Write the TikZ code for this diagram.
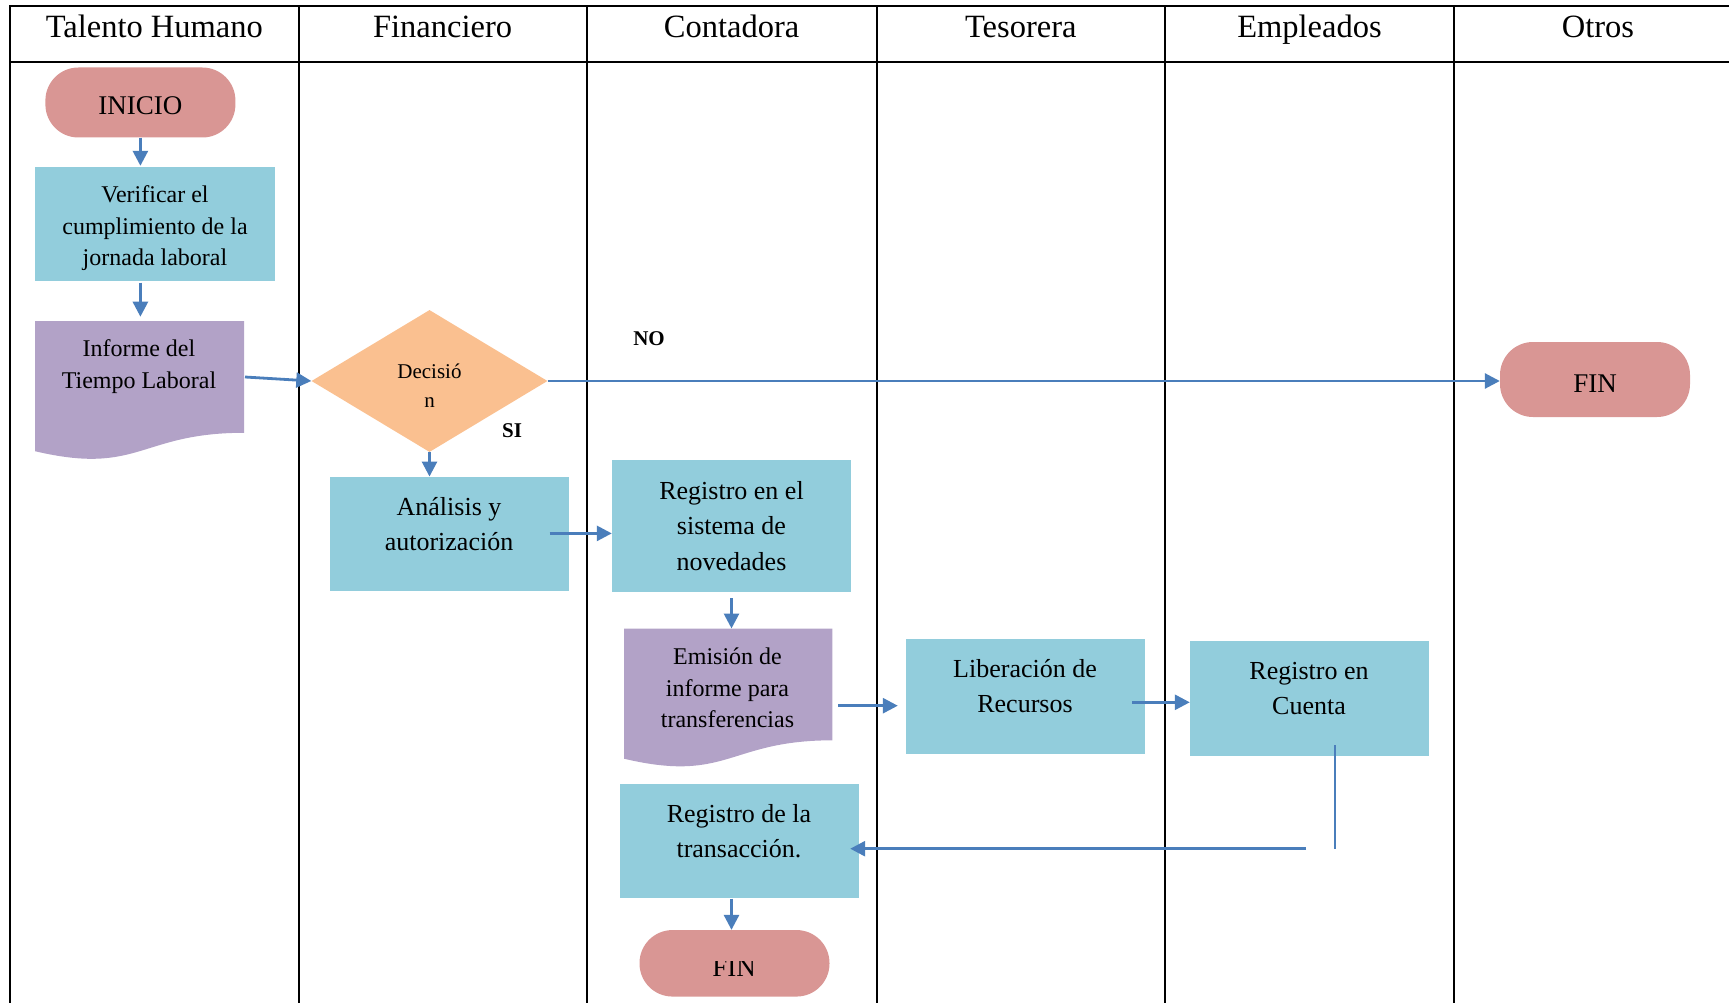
\documentclass[tikz,border=0pt]{standalone}
\usepackage{fontspec}
\setmainfont{Liberation Serif}
\usetikzlibrary{arrows.meta,calc,shapes.geometric}
\definecolor{boxblue}{HTML}{92CDDC}
\definecolor{docpurple}{HTML}{B2A2C7}
\definecolor{termrose}{HTML}{D99694}
\definecolor{decorange}{HTML}{FAC090}
\definecolor{flowblue}{HTML}{4A7EBB}

\begin{document}
\begin{tikzpicture}[x=1pt,y=-1pt,
  lane/.style={line width=2.2pt,black},
  lanehead/.style={anchor=base,inner sep=0pt,font=\fontsize{32.5}{36}\selectfont},
  process/.style={fill=boxblue,draw=none,inner sep=0pt,minimum width=239pt},
  txt/.style={align=center,inner sep=0pt,font=\fontsize{26}{35.5}\selectfont},
  smalltxt/.style={align=center,inner sep=0pt,font=\fontsize{24}{31.5}\selectfont},
  terminal/.style={fill=termrose,draw=none,rounded corners=33pt,minimum width=190pt,
    minimum height=70pt,inner sep=0pt,text height=25pt,text depth=0pt,
    font=\fontsize{27}{30}\selectfont},
  docframe/.style={draw=none,inner sep=0pt,minimum width=#1,minimum height=139pt},
  flow/.style={draw=flowblue,line width=2.8pt,-{Triangle[length=15pt,width=15pt]}},
  flowthin/.style={draw=flowblue,line width=2pt},
  tag/.style={font=\fontsize{21}{24}\selectfont\bfseries,inner sep=0pt},
]
\useasboundingbox (0,0) rectangle (1729,1003);

% swimlane grid
\draw[lane] (10,1003) -- (10,6) -- (1729,6);
\draw[lane] (10,62) -- (1729,62);
\foreach \lx in {298.6,586.6,876.6,1164.9,1454.2}
  \draw[lane] (\lx,6) -- (\lx,1003);

% lane titles
\node[lanehead] (hTalento) at (154.3,37.5) {Talento Humano};
\node[lanehead] (hFinanciero) at (442.6,37.5) {Financiero};
\node[lanehead] (hContadora) at (731.6,37.5) {Contadora};
\node[lanehead] (hTesorera) at (1020.8,37.5) {Tesorera};
\node[lanehead] (hEmpleados) at (1309.5,37.5) {Empleados};
\node[lanehead] (hOtros) at (1598,37.5) {Otros};

% Talento Humano
\node[terminal] (inicio) at (140.4,102.5) {INICIO};
\node[process,minimum width=240pt,minimum height=114pt] (verificar) at (155,224) {};
\node[smalltxt] (verificarT) at (155,228.5) {Verificar el\\cumplimiento de la\\jornada laboral};
\node[docframe=208.6pt,anchor=north west] (informe) at (35,321) {};
\fill[docpurple] (informe.north west) -- (informe.north east)
  -- ($(informe.north east)!0.802!(informe.south east)$)
  .. controls ($(informe.north)!0.802!(informe.south)$) and ($(informe.north)!1.1106!(informe.south)$)
  .. ($(informe.north west)!0.934!(informe.south west)$) -- cycle;
\node[smalltxt] (informeT) at (139,366.5) {Informe del\\Tiempo Laboral};

% Financiero
\node[diamond,fill=decorange,draw=none,minimum width=236pt,minimum height=142pt,inner sep=0pt]
  (dec) at (429.5,381) {};
\node[align=center,inner sep=0pt,font=\fontsize{21}{29}\selectfont] (decT) at (429.5,385.5)
  {Decisió\\n};
\node[tag] (no) at (649,338.5) {NO};
\node[tag] (si) at (512,430.5) {SI};
\node[process,minimum height=114.5pt] (analisis) at (449.5,534) {};
\node[txt] (analisisT) at (449,524) {Análisis y\\autorización};

% Contadora
\node[process,txt,minimum height=131.5pt] (registro) at (731.5,525.8)
  {Registro en el\\sistema de\\novedades};
\node[docframe=208pt,anchor=north west] (emision) at (624,628.5) {};
\fill[docpurple] (emision.north west) -- (emision.north east)
  -- ($(emision.north east)!0.802!(emision.south east)$)
  .. controls ($(emision.north)!0.802!(emision.south)$) and ($(emision.north)!1.1106!(emision.south)$)
  .. ($(emision.north west)!0.934!(emision.south west)$) -- cycle;
\node[smalltxt] (emisionT) at (727.5,688) {Emisión de\\informe para\\transferencias};
\node[process,minimum height=114.5pt] (transaccion) at (739.5,841.2) {};
\node[txt] (transaccionT) at (739,831) {Registro de la\\transacción.};
\node[terminal,minimum height=66.5pt] (fin2) at (734.5,963.3) {};
\begin{scope}
  \clip ($(fin2.north west)+(0,31.5)$) rectangle (fin2.south east);
  \node[anchor=base,inner sep=0pt,font=\fontsize{27}{30}\selectfont] (fin2T) at (734,976) {FIN};
\end{scope}

% Tesorera and Empleados
\node[process,minimum height=115pt] (liberacion) at (1025.5,696.5) {};
\node[txt] (liberacionT) at (1025,686) {Liberación de\\Recursos};
\node[process,minimum height=115pt] (cuenta) at (1309.5,698.5) {};
\node[txt] (cuentaT) at (1309,688.5) {Registro en\\Cuenta};

% Otros
\node[terminal,minimum height=75pt] (fin1) at (1595,379.5) {FIN};

% connectors
\draw[flow,shorten >=1pt] (inicio.south) -- (inicio.south |- verificar.north);
\draw[flow,shorten <=1.5pt,shorten >=4.3pt] (verificar.south -| inicio.south) -- (informe.north -| inicio.south);
\coordinate (informeOut) at ($(informe.north east)+(1,56)$);
\draw[flow] (informeOut) -- (dec.west);
\draw[flow] (dec.east) -- (dec.east -| fin1.west);
\draw[flow] (dec.south) -- (dec.south |- analisis.north);
\coordinate (anaOut) at ($(analisis.east)+(-19.5,-0.6)$);
\draw[flow] (anaOut) -- (anaOut -| registro.west);
\draw[flow,shorten <=6.5pt] (registro.south) -- (registro.south |- emision.north);
\coordinate (emiOut) at ($(emision.north east)+(5.7,77.2)$);
\draw[flow,shorten >=8pt] (emiOut) -- (emiOut -| liberacion.west);
\coordinate (libOut) at ($(liberacion.east)+(-13,5.8)$);
\draw[flow] (libOut) -- (libOut -| cuenta.west);
\coordinate (ctaDrop) at ($(cuenta.south)+(25.1,-11)$);
\coordinate (trIn) at ($(transaccion.east)+(-9,7.5)$);
\draw[flowthin] (ctaDrop) -- (ctaDrop |- trIn);
\coordinate (retStart) at ($(ctaDrop |- trIn)+(-28.6,0)$);
\draw[flow] (retStart) -- (trIn);
\draw[flow] (transaccion.south -| registro.south) -- (fin2.north -| registro.south);
\end{tikzpicture}
\end{document}
